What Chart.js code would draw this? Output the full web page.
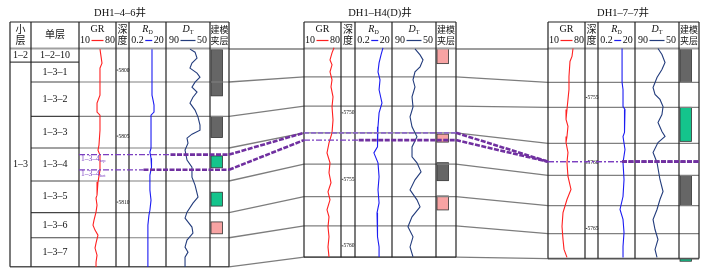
<!DOCTYPE html>
<html lang="zh">
<head>
<meta charset="utf-8">
<title>DH1 wells</title>
<script src="https://cdn.jsdelivr.net/npm/chart.js@4.4.1/dist/chart.umd.min.js"></script>
<style>
  html, body { margin: 0; padding: 0; background: #fff; }
  canvas { display: block; }
</style>
</head>
<body>
<canvas id="logs" width="707" height="274"></canvas>
<script>
// names
const wellNames = ['DH1–4–6井', 'DH1–H4(D)井', 'DH1–7–7井'];
const groupNames = ['1–2', '1–3'];
const layerNames = ['1–2–10', '1–3–1', '1–3–2', '1–3–3', '1–3–4', '1–3–5', '1–3–6', '1–3–7'];

// layer tops (m), last value is the base of 1-3-7
const tops1 = [5798.4, 5799.4, 5800.9, 5803.5, 5805.9, 5808.4, 5810.8, 5812.7, 5814.9];
const tops2 = [5745.2, 5745.2, 5747.3, 5749.5, 5751.5, 5753.85, 5756.3, 5758.5, 5760.85];
const tops3 = [5751.3, 5751.3, 5753.85, 5755.75, 5758.5, 5760.95, 5763.25, 5765.4, 5767.3];

const depthTicks1 = [5800, 5805, 5810];
const depthTicks2 = [5750, 5755, 5760];
const depthTicks3 = [5755, 5760, 5765];

// GR / RD / DT curves, depth in m
const gr1Depth = [5798.41, 5798.94, 5799.47, 5799.85, 5800.76, 5801.89, 5802.5, 5803.18, 5803.41, 5804.55, 5805.68, 5806.06, 5806.44, 5807.58, 5808.48, 5809.09, 5809.47, 5809.7, 5810.23, 5810.76, 5811.36, 5811.74, 5812.12, 5812.5, 5813.11, 5813.48, 5814.02, 5814.55, 5814.92];
const gr1 = [49.7, 51.6, 53.5, 49.7, 49.7, 49.7, 44.1, 44.1, 49.7, 49.7, 47.8, 45.9, 49.7, 49.7, 45.9, 44.1, 44.1, 42.2, 44.1, 42.2, 38.4, 36.5, 40.3, 45.9, 42.2, 40.3, 44.1, 42.2, 42.2];
const rd1Depth = [5798.41, 5801.89, 5802.27, 5802.65, 5803.18, 5803.41, 5805.91, 5806.21, 5806.67, 5806.97, 5807.35, 5807.95, 5809.09, 5809.85, 5810.61, 5810.98, 5811.74, 5814.92];
const rd1 = [3.5, 3.5, 4.0, 4.5, 4.5, 3.1, 3.1, 2.7, 3.1, 3.5, 3.1, 2.7, 2.7, 3.1, 2.7, 2.4, 2.1, 2.1];
const dt1Depth = [5798.41, 5798.64, 5799.09, 5799.47, 5799.85, 5800.23, 5800.53, 5800.91, 5801.29, 5801.67, 5802.05, 5802.5, 5803.03, 5803.56, 5804.17, 5804.55, 5804.85, 5805.15, 5805.53, 5806.06, 5806.82, 5807.35, 5808.11, 5808.71, 5809.62, 5810.08, 5810.76, 5811.21, 5811.89, 5812.35, 5812.88, 5813.41, 5813.79, 5814.17, 5814.92];
const dt1 = [68.2, 63.6, 61.8, 66.4, 68.2, 61.8, 59.1, 63.6, 66.4, 61.8, 65.5, 68.2, 63.6, 60.9, 59.1, 59.1, 66.4, 70.9, 70.0, 72.7, 70.9, 66.4, 66.4, 63.6, 60.9, 65.5, 70.9, 72.7, 66.4, 65.5, 70.9, 72.7, 70.0, 72.7, 72.7];

const gr2Depth = [5745.11, 5745.49, 5746.02, 5746.39, 5746.92, 5747.52, 5748.05, 5748.8, 5749.55, 5750.53, 5751.5, 5752.26, 5753.01, 5753.76, 5754.51, 5755.26, 5755.94, 5756.54, 5757.29, 5757.82, 5758.57, 5759.32, 5760.08, 5760.83];
const gr2 = [66.8, 63.0, 59.2, 63.0, 59.2, 63.0, 61.1, 64.9, 63.0, 64.9, 63.0, 57.3, 53.5, 59.2, 57.3, 61.1, 55.4, 59.2, 53.5, 57.3, 55.4, 57.3, 55.4, 57.3];
const rd2Depth = [5745.11, 5745.64, 5746.24, 5746.92, 5747.52, 5748.27, 5749.25, 5750.0, 5751.05, 5751.8, 5752.56, 5753.01, 5753.76, 5754.81, 5755.79, 5756.77, 5757.52, 5758.57, 5759.32, 5760.08, 5760.83];
const rd2 = [6.5, 5.1, 4.0, 3.5, 4.5, 4.0, 5.75, 4.0, 3.5, 3.5, 3.1, 2.1, 3.5, 4.0, 3.5, 4.0, 3.1, 3.5, 3.1, 4.0, 4.0];
const dt2Depth = [5745.19, 5745.64, 5746.02, 5746.54, 5746.92, 5747.52, 5748.05, 5748.8, 5749.55, 5750.3, 5751.05, 5751.5, 5751.8, 5752.56, 5753.31, 5753.76, 5754.44, 5755.04, 5755.79, 5756.54, 5757.07, 5757.82, 5758.57, 5759.32, 5760.08, 5760.83];
const dt2 = [69.1, 64.5, 61.8, 64.5, 69.1, 70.9, 69.1, 71.8, 70.9, 73.6, 71.8, 69.1, 67.3, 71.8, 71.8, 67.3, 63.6, 69.1, 73.6, 67.3, 64.5, 71.8, 75.5, 70.9, 73.6, 70.9];

const gr3Depth = [5751.26, 5751.87, 5752.25, 5753.4, 5754.39, 5755.15, 5755.92, 5756.68, 5757.21, 5757.98, 5758.44, 5759.2, 5759.96, 5761.03, 5762.02, 5762.79, 5763.78, 5764.85, 5765.84, 5766.6, 5767.21];
const gr3 = [57.3, 55.4, 51.6, 49.7, 49.7, 47.8, 45.9, 44.1, 47.8, 45.9, 44.1, 47.8, 45.9, 47.8, 53.5, 45.9, 38.4, 36.5, 38.4, 40.3, 45.9];
const rd3Depth = [5751.26, 5753.85, 5754.39, 5755.69, 5755.92, 5756.68, 5757.67, 5757.98, 5758.97, 5759.96, 5761.26, 5762.56, 5763.55, 5764.31, 5765.31, 5766.37, 5767.21];
const rd3 = [4.0, 4.0, 4.5, 4.5, 5.75, 5.1, 5.75, 4.5, 5.75, 4.5, 5.1, 4.5, 3.1, 4.5, 5.1, 4.5, 4.5];
const dt3Depth = [5751.26, 5751.72, 5752.33, 5752.86, 5753.47, 5754.24, 5754.77, 5755.15, 5755.69, 5756.3, 5756.91, 5757.6, 5757.98, 5758.44, 5759.2, 5759.96, 5761.26, 5762.18, 5762.79, 5763.55, 5764.31, 5765.08, 5765.84, 5766.6, 5767.21];
const dt3 = [69.1, 65.5, 62.7, 65.5, 70.0, 73.6, 71.8, 67.3, 64.5, 65.5, 69.1, 65.5, 62.7, 69.1, 73.6, 70.0, 67.3, 64.5, 67.3, 70.0, 73.6, 71.8, 69.1, 71.8, 70.0];

// 建模夹层 intervals
const mod1Top = [5798.45, 5803.5, 5806.5, 5809.25, 5811.5];
const mod1Base = [5801.95, 5805.1, 5807.4, 5810.3, 5812.4];
const mod1Kind = ['dark', 'dark', 'green', 'green', 'pink'];
const mod2Top = [5745.15, 5751.6, 5753.75, 5756.25];
const mod2Base = [5746.3, 5752.2, 5755.1, 5757.3];
const mod2Kind = ['pink', 'pink', 'dark', 'pink'];
const mod3Top = [5751.3, 5755.75, 5760.95, 5767.3];
const mod3Base = [5753.85, 5758.35, 5763.25, 5767.5];
const mod3Kind = ['dark', 'green', 'dark', 'green'];

// 1-3-4 top / bot markers, one per well
const markTop = [5806.4, 5751.5, 5759.9];
const markBot = [5807.55, 5752.05, 5759.9];

// layout
const W = 707, H = 274;
const HEAD_Y = 22, TOP_Y = 49;
const cols = [
    [10, 31, 79, 116, 129, 166, 210, 229],
    [304, 341, 355, 392, 436, 456],
    [548, 585, 598, 635, 679, 699]
];
const first = [2, 0, 0];
const pxPerM = [13.2, 13.3, 13.1];
const titleX = [120, 380, 623];
const splitTop = [0.61, 1, 0.49];
const splitBot = [0.43, 0.36, 0.49];

const SERIF = '"Liberation Serif", "Times New Roman", "Noto Sans CJK SC", serif';
const CJK = '"Noto Sans CJK SC", "Liberation Serif", sans-serif';
const kindColor = {dark: '#666666', green: '#14c48c', pink: '#f7a3a3'};
const curveColor = {gr: '#ff2020', rd: '#1c1cf2', dt: '#233c7c'};

const tops = [tops1, tops2, tops3];
const depthTicks = [depthTicks1, depthTicks2, depthTicks3];
const curves = [
    {gr: [gr1Depth, gr1], rd: [rd1Depth, rd1], dt: [dt1Depth, dt1]},
    {gr: [gr2Depth, gr2], rd: [rd2Depth, rd2], dt: [dt2Depth, dt2]},
    {gr: [gr3Depth, gr3], rd: [rd3Depth, rd3], dt: [dt3Depth, dt3]}
];
const models = [[mod1Top, mod1Base, mod1Kind], [mod2Top, mod2Base, mod2Kind], [mod3Top, mod3Base, mod3Kind]];

function geom(w) {
    const c = cols[w], t = first[w];
    return {
        left: c[0], logLeft: c[t], right: c[t + 5],
        gr: [c[t], c[t + 1]], dep: [c[t + 1], c[t + 2]], rd: [c[t + 2], c[t + 3]],
        dt: [c[t + 3], c[t + 4]], mod: [c[t + 4], c[t + 5]]
    };
}

function trackAxis(v0, v1, range, log) {
    const f = log ? Math.log10 : (v => v);
    const a = f(v0), b = f(v1);
    const k = (b - a) / (range[1] - range[0]);
    let lo = a - range[0] * k, hi = a + (W - range[0]) * k;
    const rev = lo > hi;
    if (rev) [lo, hi] = [hi, lo];
    return {
        type: log ? 'logarithmic' : 'linear', axis: 'x', position: 'bottom', display: false,
        reverse: rev, bounds: 'data',
        min: log ? Math.pow(10, lo) : lo, max: log ? Math.pow(10, hi) : hi,
        ticks: {display: false}, grid: {display: false}
    };
}

function depthAxis(w) {
    const min = tops[w][0] - TOP_Y / pxPerM[w];
    return {
        type: 'linear', axis: 'y', position: 'left', display: false, reverse: true, bounds: 'data',
        min: min, max: min + H / pxPerM[w], ticks: {display: false}, grid: {display: false}
    };
}

const scales = {};
const datasets = [];
for (let w = 0; w < 3; w++) {
    const g = geom(w);
    scales['xGR' + w] = trackAxis(10, 80, g.gr, false);
    scales['xRD' + w] = trackAxis(0.2, 20, g.rd, true);
    scales['xDT' + w] = trackAxis(90, 50, g.dt, false);
    scales['yD' + w] = depthAxis(w);
    ['gr', 'rd', 'dt'].forEach(key => {
        const [d, v] = curves[w][key];
        datasets.push({
            label: key + w,
            data: d.map((y, i) => ({x: v[i], y: y})),
            xAxisID: 'x' + key.toUpperCase() + w,
            yAxisID: 'yD' + w,
            showLine: true,
            pointRadius: 0,
            borderWidth: 1.1,
            borderColor: curveColor[key],
            tension: 0
        });
    });
}

function line(ctx, x0, y0, x1, y1, color, width, dash) {
    ctx.save();
    ctx.strokeStyle = color;
    ctx.lineWidth = width;
    ctx.setLineDash(dash || []);
    ctx.beginPath();
    ctx.moveTo(x0, y0);
    ctx.lineTo(x1, y1);
    ctx.stroke();
    ctx.restore();
}

function scaleRow(ctx, cx, y, a, b, color, len) {
    ctx.font = '10px ' + SERIF;
    const wa = ctx.measureText(a).width, wb = ctx.measureText(b).width;
    const total = wa + len + wb + 3;
    let x = cx - total / 2;
    ctx.textAlign = 'left';
    ctx.fillText(a, x, y);
    line(ctx, x + wa + 1.5, y, x + wa + 1.5 + len, y, color, 1.2);
    ctx.fillText(b, x + wa + len + 3, y);
    ctx.textAlign = 'center';
}

function subText(ctx, cx, y, main, sub, size, italic) {
    const mainFont = (italic ? 'italic ' : '') + size + 'px ' + SERIF;
    const subFont = Math.round(size * 0.6) + 'px ' + SERIF;
    ctx.font = mainFont;
    const wm = ctx.measureText(main).width;
    ctx.font = subFont;
    const ws = ctx.measureText(sub).width;
    const x = cx - (wm + ws) / 2;
    ctx.textAlign = 'left';
    ctx.font = mainFont;
    ctx.fillText(main, x, y);
    ctx.font = subFont;
    ctx.fillText(sub, x + wm, y + size * 0.3);
    ctx.textAlign = 'center';
}

const mid = r => (r[0] + r[1]) / 2;

const tablePlugin = {
    id: 'wellTables',
    beforeDatasetsDraw(chart) {
        const ctx = chart.ctx;
        const yOf = (w, d) => chart.scales['yD' + w].getPixelForValue(d);
        ctx.save();
        ctx.textBaseline = 'middle';
        ctx.textAlign = 'center';

        // correlation lines between neighbouring wells
        const link = [0, 2, 3, 4, 5, 6, 7, 8];
        for (let w = 0; w < 2; w++) {
            const a = geom(w), b = geom(w + 1);
            link.forEach(i => line(ctx, a.right, yOf(w, tops[w][i]), b.left, yOf(w + 1, tops[w + 1][i]), '#7d7d7d', 1.3));
        }

        for (let w = 0; w < 3; w++) {
            const g = geom(w);
            const t = tops[w];
            const base = yOf(w, t[8]);
            ctx.fillStyle = '#111';

            // title
            ctx.font = '10.5px ' + SERIF;
            ctx.fillText(wellNames[w], titleX[w], 13);

            // header
            ctx.font = '10px ' + SERIF;
            ctx.fillText('GR', mid(g.gr), 29.5);
            scaleRow(ctx, mid(g.gr), 40.5, '10', '80', curveColor.gr, 12);
            ctx.font = '10px ' + CJK;
            ctx.fillText('深', mid(g.dep), 29.5);
            ctx.fillText('度', mid(g.dep), 40.5);
            subText(ctx, mid(g.rd), 29, 'R', 'D', 10, true);
            scaleRow(ctx, mid(g.rd), 40.5, '0.2', '20', curveColor.rd, 7);
            subText(ctx, mid(g.dt), 29, 'D', 'T', 10, true);
            scaleRow(ctx, mid(g.dt), 40.5, '90', '50', curveColor.dt, 15);
            ctx.font = '9px ' + CJK;
            ctx.fillText('建模', mid(g.mod), 29.5);
            ctx.fillText('夹层', mid(g.mod), 40.5);

            if (w === 0) {
                ctx.font = '10px ' + CJK;
                ctx.fillText('小', 20.5, 29.5);
                ctx.fillText('层', 20.5, 40.5);
                ctx.fillText('单层', 55, 34.5);
                ctx.font = '10px ' + SERIF;
                ctx.fillText(groupNames[0], 20.5, (yOf(0, t[0]) + yOf(0, t[1])) / 2);
                ctx.fillText(groupNames[1], 20.5, (yOf(0, t[1]) + base) / 2);
                layerNames.forEach((name, i) => {
                    ctx.fillText(name, 55, (yOf(0, t[i]) + yOf(0, t[i + 1])) / 2);
                });
                // 1-2 / 1-3 boundary only in the label columns
                line(ctx, 10, yOf(0, t[1]), 79, yOf(0, t[1]), '#444', 1.2);
            }

            // model interval boxes
            const [mt, mb, mk] = models[w];
            mt.forEach((d, i) => {
                const y0 = yOf(w, d), y1 = yOf(w, mb[i]);
                ctx.fillStyle = kindColor[mk[i]];
                ctx.fillRect(g.mod[0] + 1, y0, 11.5, y1 - y0);
                ctx.strokeStyle = '#333';
                ctx.lineWidth = 0.8;
                ctx.strokeRect(g.mod[0] + 1, y0, 11.5, y1 - y0);
            });

            // layer boundaries
            for (let i = 2; i < 8; i++) {
                const y = yOf(w, t[i]);
                if (w === 0) line(ctx, 31, y, 79, y, '#444', 1.2);
                line(ctx, g.logLeft, y, g.right, y, '#808080', 1.2);
            }
            line(ctx, g.left, HEAD_Y + 26.5, g.right, HEAD_Y + 26.5, '#a0a0a0', 2);
            line(ctx, g.left, base, g.right, base, '#555', 1.6);
            line(ctx, g.left, HEAD_Y, g.right, HEAD_Y, '#222', 1.2);
            cols[w].forEach(x => line(ctx, x, HEAD_Y, x, base, '#222', 1.2));

            // depth marks
            ctx.fillStyle = '#111';
            ctx.font = '5.5px ' + SERIF;
            ctx.textAlign = 'left';
            depthTicks[w].forEach(d => {
                const y = yOf(w, d);
                line(ctx, g.dep[0] + 0.8, y, g.dep[0] + 2.3, y, '#111', 0.8);
                ctx.fillText(String(d), g.dep[0] + 2.4, y);
            });
            ctx.textAlign = 'center';
        }
        ctx.restore();
    },
    afterDatasetsDraw(chart) {
        const ctx = chart.ctx;
        const yOf = (w, d) => chart.scales['yD' + w].getPixelForValue(d);
        const thin = ['#7b3fc0', 1.2, [6, 2, 2, 2]];
        const medium = ['#8c6ac6', 1.7, [5, 2]];
        const thick = ['#7030a0', 2.6, [5, 1.5]];
        const seg = (x0, y0, x1, y1, s) => line(ctx, x0, y0, x1, y1, s[0], s[1], s[2]);

        [[markTop, splitTop], [markBot, splitBot]].forEach(([mark, split], k) => {
            for (let w = 0; w < 3; w++) {
                const g = geom(w);
                const y = yOf(w, mark[w]);
                const xs = g.logLeft + (g.right - g.logLeft) * split[w];
                const thinStyle = (w === 1 && k === 0) ? medium : thin;
                seg(g.logLeft, y, xs, y, thinStyle);
                if (xs < g.right) seg(xs, y, g.right, y, thick);
                if (w < 2) {
                    const n = geom(w + 1);
                    seg(g.right, y, n.left, yOf(w + 1, mark[w + 1]), thick);
                }
            }
            // label in the first well
            const g = geom(0);
            const y = yOf(0, mark[0]) + 4.5;
            ctx.save();
            ctx.fillStyle = '#7b3fc0';
            ctx.textBaseline = 'middle';
            ctx.textAlign = 'left';
            ctx.font = '7.5px ' + SERIF;
            const txt = layerNames[4];
            ctx.fillText(txt, g.logLeft + 2, y);
            const wt = ctx.measureText(txt).width;
            ctx.font = '4.5px ' + SERIF;
            ctx.fillText(k === 0 ? 'top' : 'bot', g.logLeft + 2 + wt, y + 2);
            ctx.restore();
        });
    }
};

new Chart(document.getElementById('logs'), {
    type: 'scatter',
    data: {datasets: datasets},
    options: {
        responsive: false,
        animation: false,
        events: [],
        layout: {padding: 0},
        plugins: {
            legend: {display: false},
            tooltip: {enabled: false}
        },
        scales: scales
    },
    plugins: [tablePlugin]
});
</script>
</body>
</html>
